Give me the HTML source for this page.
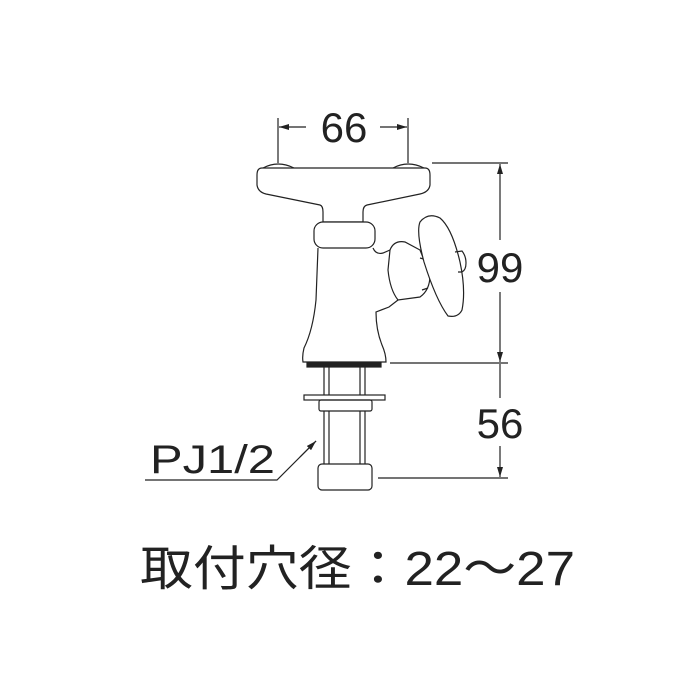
<!DOCTYPE html>
<html><head><style>body{margin:0;background:#fff}svg{display:block}</style></head><body>
<svg width="700" height="700" viewBox="0 0 700 700" xmlns="http://www.w3.org/2000/svg">
<defs><marker id="a" markerWidth="10" markerHeight="6" refX="10" refY="3" orient="auto" markerUnits="userSpaceOnUse"><path d="M0,0 L10,3 L0,6z" fill="#222"/></marker></defs>
<g fill="none" stroke="#222" stroke-width="1.2">
<!-- dims -->
<line x1="278" y1="118" x2="278" y2="163"/><line x1="408" y1="118" x2="408" y2="163"/>
<line x1="306" y1="127" x2="279" y2="127" marker-end="url(#a)"/><line x1="380" y1="127" x2="407" y2="127" marker-end="url(#a)"/>
<line x1="432" y1="163" x2="508" y2="163"/><line x1="390" y1="363" x2="508" y2="363"/><line x1="378" y1="478" x2="508" y2="478"/>
<line x1="500" y1="240" x2="500" y2="164" marker-end="url(#a)"/><line x1="500" y1="292" x2="500" y2="362" marker-end="url(#a)"/>
<line x1="500" y1="364" x2="500" y2="398"/><line x1="500" y1="446" x2="500" y2="477" marker-end="url(#a)"/>
<polyline points="145,480 277,480 316,441" /><line x1="300" y1="457" x2="316" y2="441" marker-end="url(#a)"/>
<!-- handle -->
<path d="M262,168 L425,168 Q430,168 430,175 L430,185 Q429,192 420,194 L367,205 Q363,206 363,212 L363,222 L323,222 L323,212 Q323,206 320,205 L266,194 Q258,192 257,185 L257,175 Q257,168 262,168 Z"/>
<path d="M263,168 Q278,160 294,168 M393,168 Q408,160 424,168"/>
<!-- body -->
<path d="M318,248 L316,300 Q313,330 304,348 Q302,356 303,362 L386,362 Q386,354 382,345 Q376,330 376,312 L389,307 L398,300 M373,248 Q376,255 383,253 L390,250"/>
<!-- collar -->
<rect x="314" y="222" width="61" height="26" rx="9" fill="#fff"/>
<!-- wheel hub -->
<path d="M390,250 Q394,240 405,242 L420,250 L430,275 Q430,290 420,297 L398,300 Q390,290 388,270 Z" fill="#fff"/>
<path d="M420,258 L427,260 M422,290 L428,288"/>
<!-- wheel -->
<path d="M420,222 Q428,212 440,218 Q452,228 460,262 Q466,290 462,310 Q458,318 448,316 Q436,300 424,262 Q416,232 420,222 Z" fill="#fff"/>
<path d="M455,252 L462,251 Q466,256 466,263 Q466,270 462,272 L458,272"/>
<!-- base -->
<rect x="307" y="363" width="74" height="4" fill="#222"/>
<line x1="324" y1="367" x2="324" y2="395"/><line x1="329" y1="367" x2="329" y2="395"/>
<line x1="360" y1="367" x2="360" y2="395"/><line x1="365" y1="367" x2="365" y2="395"/>
<rect x="304" y="395" width="81" height="5"/>
<rect x="319" y="400" width="53" height="11" rx="2"/>
<line x1="324" y1="411" x2="324" y2="464"/><line x1="329" y1="411" x2="329" y2="464"/>
<line x1="360" y1="411" x2="360" y2="464"/><line x1="365" y1="411" x2="365" y2="464"/>
<rect x="318" y="464" width="54" height="26" rx="4"/>
</g>
<g font-family="Liberation Sans, sans-serif" fill="#222">
<text x="344" y="142" font-size="42" text-anchor="middle">66</text>
<text x="500" y="282" font-size="42" text-anchor="middle">99</text>
<text x="500" y="438" font-size="42" text-anchor="middle">56</text>
<text x="150" y="473" font-size="40" textLength="125" lengthAdjust="spacingAndGlyphs">PJ1/2</text>
<text x="140" y="585" font-size="48" font-family="Liberation Sans, Noto Sans CJK JP, sans-serif" textLength="435" lengthAdjust="spacingAndGlyphs">取付穴径：22～27</text>
</g>
</svg>
</body></html>
